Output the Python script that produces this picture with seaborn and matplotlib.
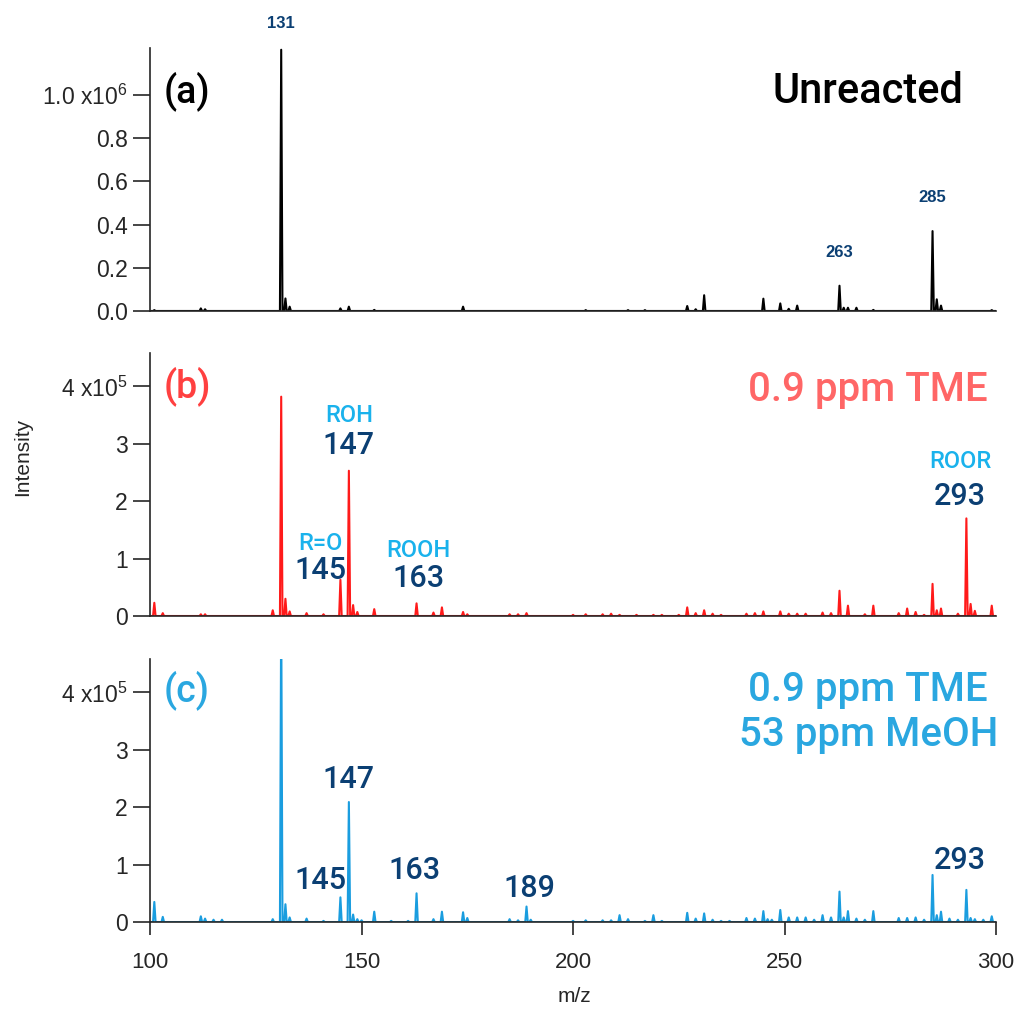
import numpy as np
import pandas as pd
import seaborn as sns
import matplotlib.pyplot as plt

sns.set_style("ticks")
plt.rcParams['font.family'] = ['Liberation Sans', 'DejaVu Sans']
plt.rcParams['mathtext.default'] = 'regular'

# peak lists (m/z, intensity)
mz_a = [101, 112, 113, 131, 132, 133, 145, 147, 153, 174, 203, 213, 217, 227, 229, 231,
        245, 249, 251, 253, 263, 264, 265, 267, 271, 285, 286, 287, 299]
int_a = [0.004e6, 0.012e6, 0.008e6, 1.21e6, 0.058e6, 0.02e6, 0.012e6, 0.02e6, 0.005e6, 0.02e6,
         0.004e6, 0.004e6, 0.004e6, 0.023e6, 0.008e6, 0.073e6, 0.057e6, 0.035e6, 0.01e6, 0.025e6,
         0.117e6, 0.015e6, 0.015e6, 0.015e6, 0.005e6, 0.37e6, 0.054e6, 0.025e6, 0.004e6]

mz_b = [101, 103, 112, 113, 129, 131, 132, 133, 137, 141, 145, 147, 148, 149, 153, 163, 167,
        169, 174, 175, 185, 187, 189, 200, 203, 207, 209, 211, 215, 219, 221, 225, 227, 229,
        231, 233, 235, 241, 243, 245, 249, 251, 253, 255, 259, 261, 263, 265, 269, 271, 277,
        279, 281, 283, 285, 286, 287, 291, 293, 294, 295, 299]
int_b = [0.23e5, 0.05e5, 0.03e5, 0.03e5, 0.1e5, 3.82e5, 0.3e5, 0.08e5, 0.05e5, 0.03e5,
         0.63e5, 2.53e5, 0.19e5, 0.07e5, 0.12e5, 0.22e5, 0.06e5, 0.15e5, 0.07e5, 0.03e5,
         0.03e5, 0.03e5, 0.05e5, 0.02e5, 0.03e5, 0.03e5, 0.04e5, 0.02e5, 0.02e5, 0.02e5,
         0.02e5, 0.02e5, 0.15e5, 0.05e5, 0.1e5, 0.04e5, 0.02e5, 0.04e5, 0.05e5, 0.08e5,
         0.08e5, 0.04e5, 0.04e5, 0.04e5, 0.06e5, 0.05e5, 0.44e5, 0.18e5, 0.03e5, 0.18e5,
         0.05e5, 0.13e5, 0.07e5, 0.02e5, 0.56e5, 0.1e5, 0.13e5, 0.04e5, 1.7e5, 0.21e5,
         0.09e5, 0.18e5]

mz_c = [101, 103, 112, 113, 115, 117, 129, 131, 132, 133, 137, 141, 145, 147, 148, 149,
        150, 153, 157, 161, 163, 167, 169, 174, 175, 185, 187, 189, 190, 200, 203, 207, 209,
        211, 213, 217, 219, 221, 227, 229, 231, 233, 235, 237, 241, 243, 245, 246, 247, 249,
        251, 253, 255, 257, 259, 261, 263, 264, 265, 267, 269, 271, 277, 279, 281, 283, 285,
        286, 287, 289, 291, 293, 294, 295, 297, 299]
int_c = [0.35e5, 0.09e5, 0.1e5, 0.06e5, 0.04e5, 0.04e5, 0.05e5, 5.5e5, 0.31e5, 0.08e5,
         0.06e5, 0.02e5, 0.43e5, 2.09e5, 0.13e5, 0.05e5, 0.03e5, 0.18e5, 0.02e5, 0.02e5,
         0.5e5, 0.05e5, 0.18e5, 0.17e5, 0.07e5, 0.05e5, 0.03e5, 0.27e5, 0.04e5, 0.02e5,
         0.03e5, 0.03e5, 0.03e5, 0.12e5, 0.05e5, 0.02e5, 0.12e5, 0.02e5, 0.16e5, 0.06e5,
         0.15e5, 0.04e5, 0.02e5, 0.02e5, 0.07e5, 0.06e5, 0.19e5, 0.05e5, 0.04e5, 0.21e5,
         0.08e5, 0.08e5, 0.08e5, 0.04e5, 0.12e5, 0.08e5, 0.53e5, 0.08e5, 0.19e5, 0.06e5,
         0.04e5, 0.19e5, 0.07e5, 0.07e5, 0.08e5, 0.04e5, 0.82e5, 0.12e5, 0.18e5, 0.06e5,
         0.04e5, 0.56e5, 0.07e5, 0.05e5, 0.04e5, 0.1e5]

line_colors = ['black', '#ff1a1a', '#1a9ddf']
panel_tags = ['(a)', '(b)', '(c)']
tag_colors = ['black', '#ff4040', '#2aa7e0']
titles = ['Unreacted', '0.9 ppm TME', '0.9 ppm TME\n53 ppm MeOH']
title_colors = ['black', '#ff6666', '#2aa7e0']

ticks_a = [0, 0.2e6, 0.4e6, 0.6e6, 0.8e6, 1.0e6]
ticklabels_a = ['0.0', '0.2', '0.4', '0.6', '0.8', '1.0 x10$^{6}$']
ticks_bc = [0, 1e5, 2e5, 3e5, 4e5]
ticklabels_bc = ['0', '1', '2', '3', '4 x10$^{5}$']
ytop = [1.218e6, 4.58e5, 4.58e5]

dark = '#0b3f73'
light = '#1ab2ec'
bigfont = ['Roboto', 'Liberation Sans', 'DejaVu Sans']

# labelled peaks: m/z, label, number offset (dx, dy) in points
notes_a = [(131, 22), (263, 24), (285, 24)]
notes_b = [(147, 'ROH', 0, 18, 40), (145, 'R=O', -14.6, 7, 26),
           (163, 'ROOH', 1.5, 18, 38), (293, 'ROOR', -4.6, 16, 41)]
notes_c = [(147, 0, 16.5), (145, -14.6, 12), (163, -1.8, 16.5), (189, 1.8, 13), (293, -4.6, 21)]


def stick_frame(mz, inten):
    xs, ys = [100], [0]
    for m, h in sorted(zip(mz, inten)):
        xs += [m - 0.3, m, m + 0.3]
        ys += [0, h, 0]
    xs.append(300)
    ys.append(0)
    return pd.DataFrame({'mz': xs, 'intensity': ys})


fig = plt.figure(figsize=(10.21, 10.11), dpi=100)
bottoms = [0.6924, 0.3907, 0.0880]
axes = [fig.add_axes([0.147, b, 0.8285, 0.2601]) for b in bottoms]

spectra = [(mz_a, int_a), (mz_b, int_b), (mz_c, int_c)]
tag_y = [0.8365, 0.8736, 0.881]
for i, ax in enumerate(axes):
    df = stick_frame(*spectra[i])
    sns.lineplot(data=df, x='mz', y='intensity', sort=False, estimator=None,
                 color=line_colors[i], lw=1.5, ax=ax)
    ax.set_xlim(100, 300)
    ax.set_ylim(0, ytop[i])
    sns.despine(ax=ax)
    ax.spines['left'].set_linewidth(1.2)
    ax.spines['bottom'].set_linewidth(1.2)
    ax.set_xlabel('')
    ax.set_ylabel('')
    if i == 0:
        ax.set_yticks(ticks_a)
        ax.set_yticklabels(ticklabels_a)
    else:
        ax.set_yticks(ticks_bc)
        ax.set_yticklabels(ticklabels_bc)
    ax.tick_params(axis='y', direction='out', length=12, width=1.2, labelsize=16.5, pad=4)
    if i < 2:
        ax.set_xticks([])
    else:
        ax.set_xticks([100, 150, 200, 250, 300])
        ax.tick_params(axis='x', direction='out', length=9.5, width=1.2, labelsize=16, pad=12)
    ax.text(0.016, tag_y[i], panel_tags[i], transform=ax.transAxes, fontsize=27,
            color=tag_colors[i], ha='left', va='center', family=bigfont, fontweight='medium')

axes[0].text(0.849, 0.8365, titles[0], transform=axes[0].transAxes, fontsize=30,
             ha='center', va='center', color=title_colors[0], family=bigfont, fontweight='medium')
axes[1].text(0.849, 0.858, titles[1], transform=axes[1].transAxes, fontsize=29,
             ha='center', va='center', color=title_colors[1], family=bigfont, fontweight='medium')
axes[2].text(0.849, 0.797, titles[2], transform=axes[2].transAxes, fontsize=29,
             ha='center', va='center', color=title_colors[2], multialignment='center',
             linespacing=1.22, family=bigfont, fontweight='medium')

peak_a = dict(zip(mz_a, int_a))
for m, dy in notes_a:
    axes[0].annotate(str(m), (m, min(peak_a[m], 1.19e6)), xytext=(0, dy), textcoords='offset points',
                     ha='center', va='center', fontsize=12, color=dark, fontweight='bold',
                     annotation_clip=False)

peak_b = dict(zip(mz_b, int_b))
for m, lab, dx, dy, dy2 in notes_b:
    axes[1].annotate(str(m), (m, peak_b[m]), xytext=(dx, dy), textcoords='offset points',
                     ha='center', va='center', fontsize=22, color=dark, family=bigfont,
                     fontweight='medium')
    axes[1].annotate(lab, (m, peak_b[m]), xytext=(dx, dy2), textcoords='offset points',
                     ha='center', va='center', fontsize=17, color=light, family=bigfont,
                     fontweight='medium')

peak_c = dict(zip(mz_c, int_c))
for m, dx, dy in notes_c:
    axes[2].annotate(str(m), (m, peak_c[m]), xytext=(dx, dy), textcoords='offset points',
                     ha='center', va='center', fontsize=22, color=dark, family=bigfont,
                     fontweight='medium')

fig.text(0.022, 1 - 457 / 1011, 'Intensity', rotation=90, ha='center', va='center', fontsize=15)
fig.text(0.563, 1 - 996 / 1011, 'm/z', ha='center', va='center', fontsize=15)

fig.savefig('out.png', dpi=100)
